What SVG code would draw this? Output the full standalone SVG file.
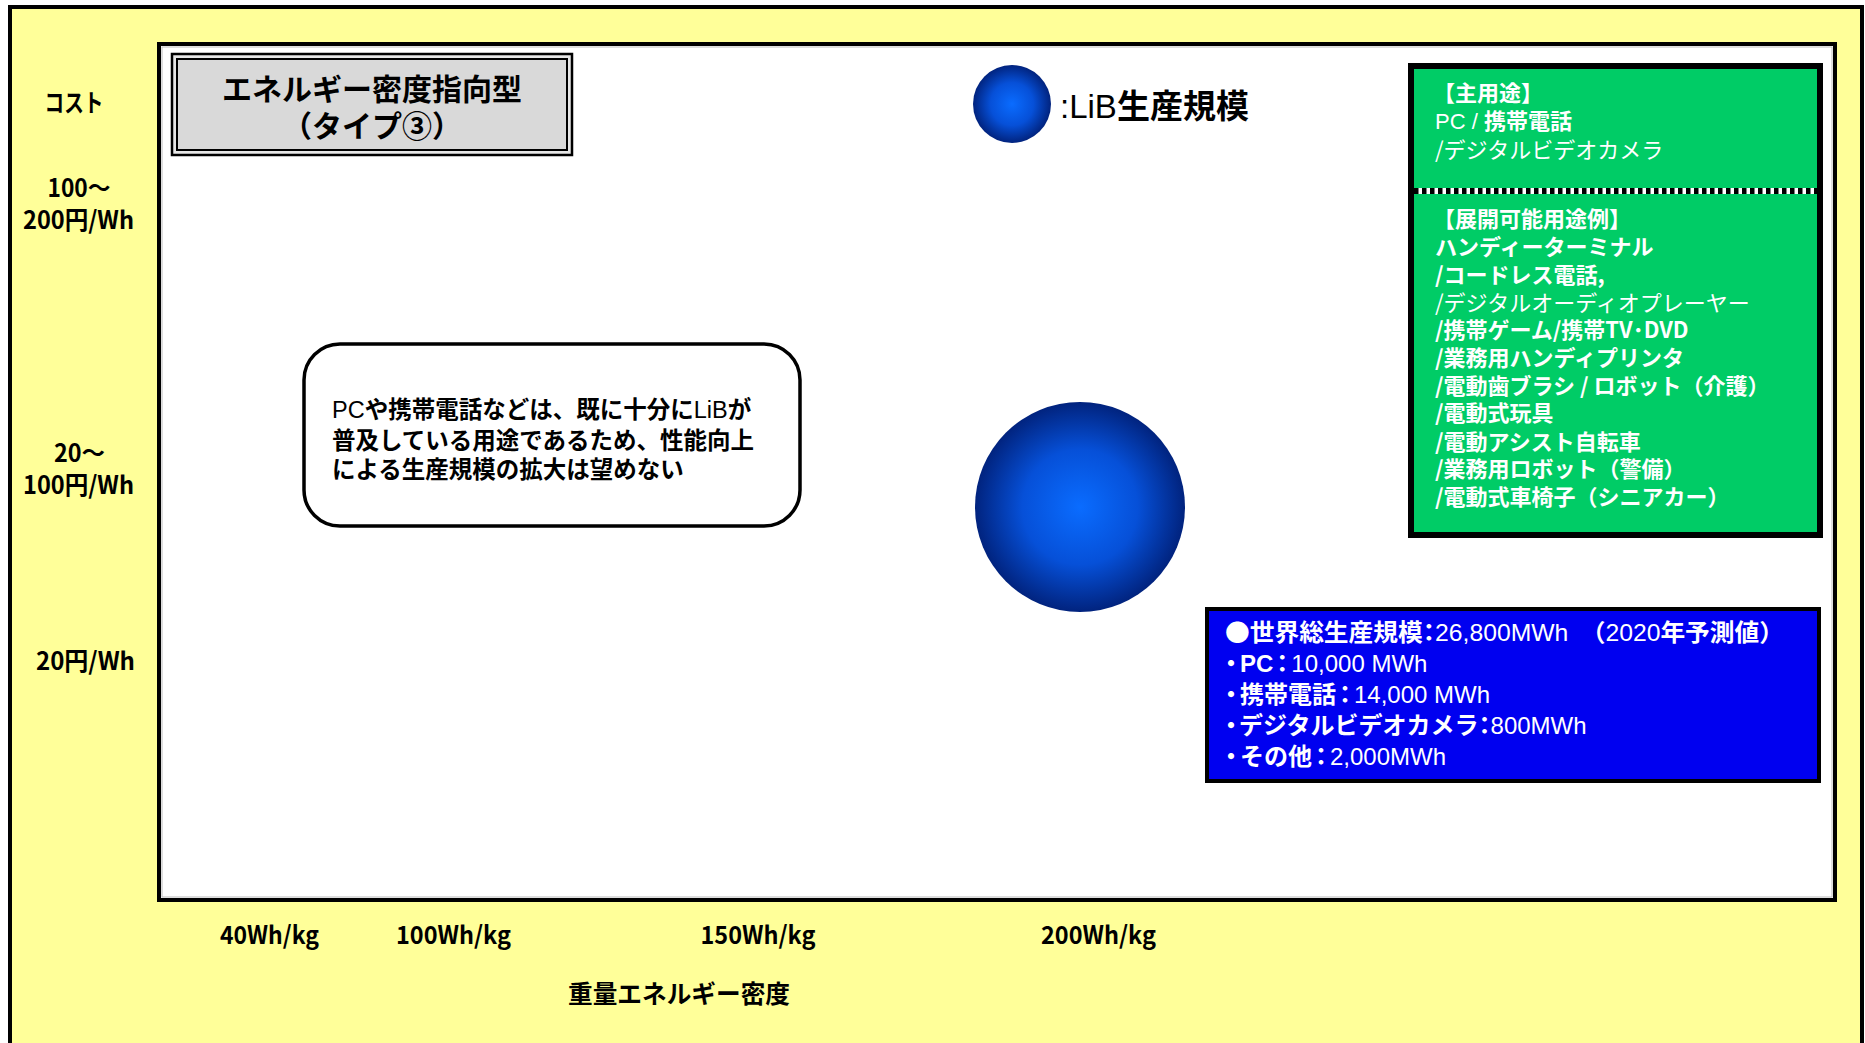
<svg xmlns="http://www.w3.org/2000/svg" width="1865" height="1043" viewBox="0 0 1865 1043">
<style>
  text { font-family: "Liberation Sans", "Noto Sans CJK JP", sans-serif; }
  .ax { font-family: "Noto Sans CJK JP", sans-serif; font-weight: bold; font-size: 25px; fill: #000; }
  .b { font-weight: bold; }
  .n { font-weight: normal; }
  .wt { fill: #fff; font-size: 22px; }
  .bt { fill: #fff; font-size: 24px; }
  .cj { font-family: "Noto Sans CJK JP", sans-serif; }
  .p { font-feature-settings: "palt"; }
</style>
<defs>
  <radialGradient id="ball" cx="50%" cy="50%" r="50%">
    <stop offset="0%" stop-color="#0a6cff"/>
    <stop offset="55%" stop-color="#0650d8"/>
    <stop offset="100%" stop-color="#01237e"/>
  </radialGradient>
</defs>

<g id="background">
  <rect x="10" y="7" width="1852" height="1060" fill="#ffff99" stroke="#000" stroke-width="4"/>
  <rect x="159" y="44" width="1676" height="856" fill="#fff" stroke="#000" stroke-width="4"/>
  <rect x="162" y="47" width="1670" height="850" fill="none" stroke="#bbb" stroke-width="1"/>
</g>

<g id="y-axis-labels">
  <text class="ax" x="74" y="112" text-anchor="middle" textLength="59" lengthAdjust="spacingAndGlyphs">コスト</text>
  <text class="ax" x="79" y="197" text-anchor="middle" textLength="63" lengthAdjust="spacingAndGlyphs">100～</text>
  <text class="ax" x="78.5" y="229" text-anchor="middle" textLength="111" lengthAdjust="spacingAndGlyphs">200円/Wh</text>
  <text class="ax" x="79.5" y="462" text-anchor="middle" textLength="51" lengthAdjust="spacingAndGlyphs">20～</text>
  <text class="ax" x="78.5" y="494" text-anchor="middle" textLength="111" lengthAdjust="spacingAndGlyphs">100円/Wh</text>
  <text class="ax" x="85.5" y="670" text-anchor="middle" textLength="99" lengthAdjust="spacingAndGlyphs">20円/Wh</text>
</g>

<g id="x-axis-labels">
  <text class="ax" x="269.5" y="944" text-anchor="middle" textLength="99" lengthAdjust="spacingAndGlyphs">40Wh/kg</text>
  <text class="ax" x="453.5" y="944" text-anchor="middle" textLength="115" lengthAdjust="spacingAndGlyphs">100Wh/kg</text>
  <text class="ax" x="758" y="944" text-anchor="middle" textLength="115" lengthAdjust="spacingAndGlyphs">150Wh/kg</text>
  <text class="ax" x="1098.5" y="944" text-anchor="middle" textLength="115" lengthAdjust="spacingAndGlyphs">200Wh/kg</text>
  <text class="ax" x="679" y="1003" text-anchor="middle" textLength="222" lengthAdjust="spacingAndGlyphs">重量エネルギー密度</text>
</g>

<g id="title">
  <rect x="172" y="54" width="400" height="101" fill="#e6e6e6" stroke="#000" stroke-width="2.5"/>
  <rect x="177" y="59" width="390" height="91" fill="#d9d9d9" stroke="#000" stroke-width="2"/>
  <text class="cj b" x="372" y="100" font-size="30" text-anchor="middle">エネルギー密度指向型</text>
  <text class="cj b" x="372" y="137" font-size="30" text-anchor="middle">（タイプ③）</text>
</g>

<g id="legend">
  <circle cx="1012" cy="104" r="39" fill="url(#ball)"/>
  <text x="1060" y="118" font-size="33"><tspan class="n">:LiB</tspan><tspan class="b cj">生産規模</tspan></text>
</g>

<g id="production-bubble">
  <circle cx="1080" cy="507" r="105" fill="url(#ball)"/>
</g>

<g id="note">
  <rect x="304" y="344" width="496" height="182" rx="36" ry="36" fill="#fff" stroke="#000" stroke-width="3.5"/>
  <text x="332" y="418" font-size="23.5"><tspan class="n">PC</tspan><tspan class="b cj">や携帯電話などは、既に十分に</tspan><tspan class="n">LiB</tspan><tspan class="b cj">が</tspan></text>
  <text class="b cj" x="332" y="449" font-size="23.5">普及している用途であるため、性能向上</text>
  <text class="b cj" x="332" y="478" font-size="23.5">による生産規模の拡大は望めない</text>
</g>

<g id="applications">
  <rect x="1411" y="66" width="409" height="469" fill="#00cc66" stroke="#000" stroke-width="6"/>
  <line x1="1414" y1="191" x2="1817" y2="191" stroke="#fff" stroke-width="6"/>
  <line x1="1414" y1="191" x2="1817" y2="191" stroke="#000" stroke-width="6" stroke-dasharray="4.5 3.5"/>
  <text class="wt b cj" x="1433" y="101">【主用途】</text>
  <text class="wt" x="1435" y="129"><tspan class="n">PC / </tspan><tspan class="b cj">携帯電話</tspan></text>
  <text class="wt n cj" x="1435" y="158">/デジタルビデオカメラ</text>
  <text class="wt b cj" x="1433" y="227">【展開可能用途例】</text>
  <text class="wt b cj" x="1435" y="255">ハンディーターミナル</text>
  <text class="wt b cj" x="1435" y="283">/コードレス電話,</text>
  <text class="wt n cj" x="1435" y="311">/デジタルオーディオプレーヤー</text>
  <text class="wt b cj" x="1435" y="338">/携帯ゲーム/携帯TV･DVD</text>
  <text class="wt b cj" x="1435" y="366">/業務用ハンディプリンタ</text>
  <text class="wt b cj" x="1435" y="394">/電動歯ブラシ / ロボット（介護）</text>
  <text class="wt b cj" x="1435" y="421">/電動式玩具</text>
  <text class="wt b cj" x="1435" y="450">/電動アシスト自転車</text>
  <text class="wt b cj" x="1435" y="477">/業務用ロボット（警備）</text>
  <text class="wt b cj" x="1435" y="505">/電動式車椅子（シニアカー）</text>
</g>

<g id="production-volume">
  <rect x="1207" y="609" width="612" height="172" fill="#0000f0" stroke="#000" stroke-width="4"/>
  <text class="bt" x="1225" y="641" textLength="559" lengthAdjust="spacingAndGlyphs"><tspan class="b cj">●世界総生産規模</tspan><tspan class="b cj p">：</tspan><tspan class="n">26,800MWh　</tspan><tspan class="b cj">（</tspan><tspan class="n">2020</tspan><tspan class="b cj">年予測値）</tspan></text>
  <text class="bt" x="1225" y="672"><tspan class="b cj p">・</tspan><tspan class="b" dx="3">PC</tspan><tspan class="b cj p" dx="3">：</tspan><tspan class="n" dx="3">10,000 MWh</tspan></text>
  <text class="bt" x="1225" y="703"><tspan class="b cj p">・</tspan><tspan class="b cj" dx="3">携帯電話</tspan><tspan class="b cj p" dx="3">：</tspan><tspan class="n" dx="3">14,000 MWh</tspan></text>
  <text class="bt" x="1225" y="734"><tspan class="b cj p">・</tspan><tspan class="b cj" dx="2">デジタルビデオカメラ</tspan><tspan class="b cj p">：</tspan><tspan class="n">800MWh</tspan></text>
  <text class="bt" x="1225" y="765"><tspan class="b cj p">・</tspan><tspan class="b cj" dx="3">その他</tspan><tspan class="b cj p" dx="3">：</tspan><tspan class="n" dx="3">2,000MWh</tspan></text>
</g>
</svg>
